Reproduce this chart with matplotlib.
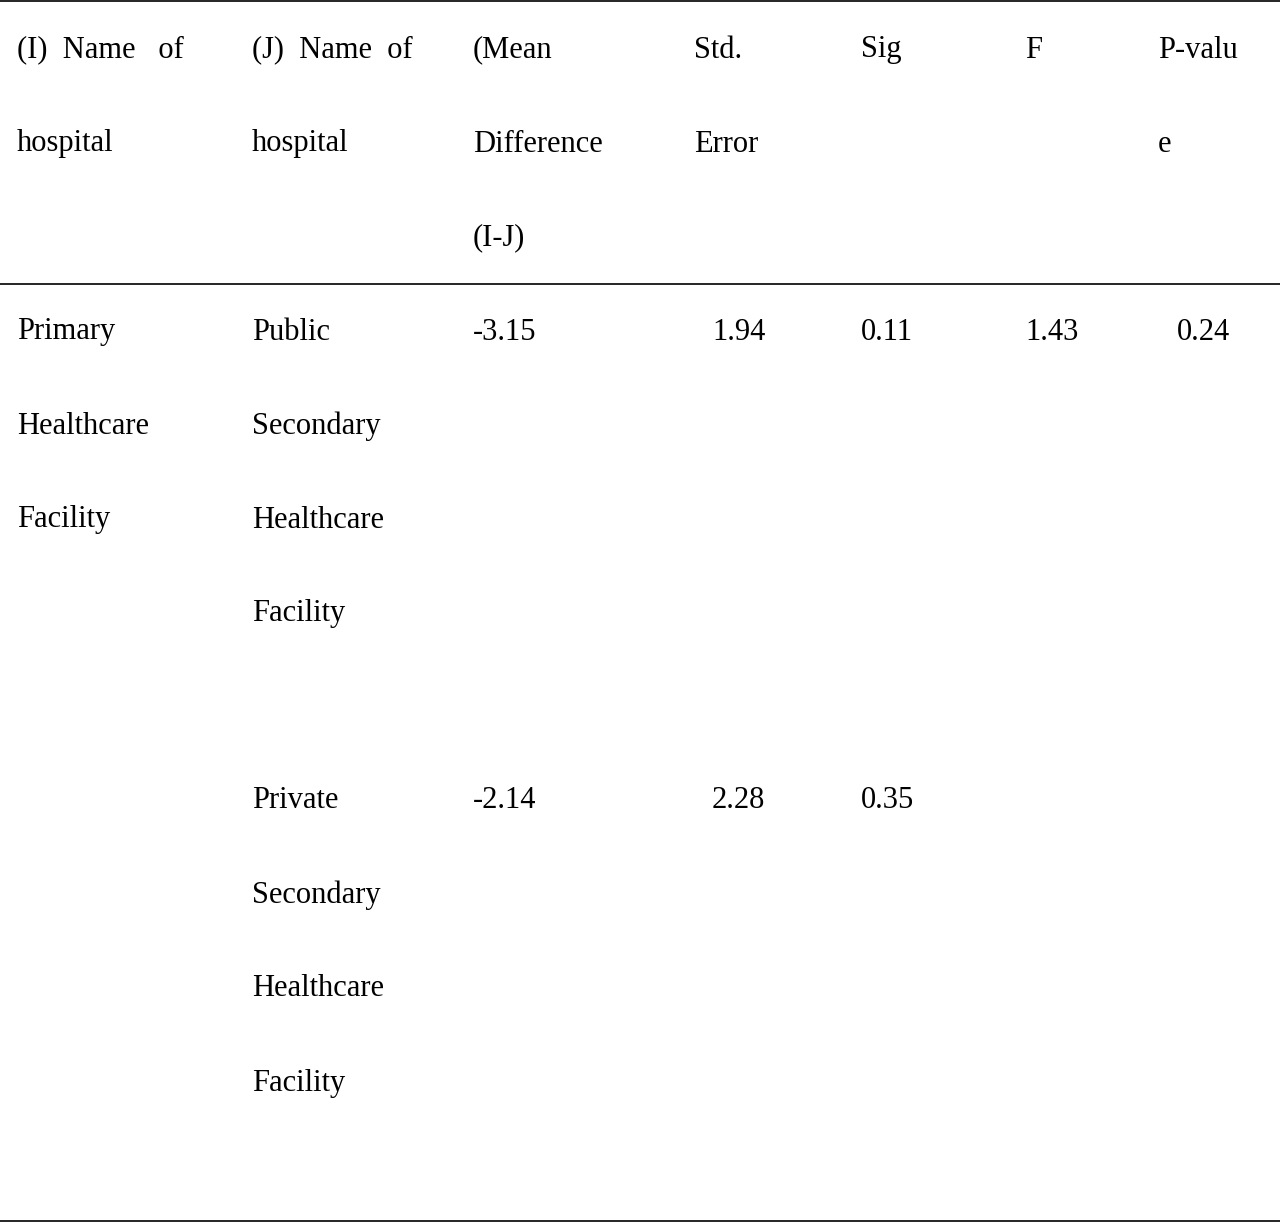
import matplotlib as mpl
mpl.use('Agg')
import matplotlib.pyplot as plt

# table content
headers = [["(I)  Name   of", "hospital"],
           ["(J)  Name  of", "hospital"],
           ["(Mean", "Difference", "(I-J)"],
           ["Std.", "Error"],
           ["Sig"],
           ["F"],
           ["P-valu", "e"]]
group_i = ["Primary", "Healthcare", "Facility"]
group_j = [["Public", "Secondary", "Healthcare", "Facility"],
           ["Private", "Secondary", "Healthcare", "Facility"]]
mean_diff = ["-3.15", "-2.14"]
std_err = ["1.94", "2.28"]
sig = ["0.11", "0.35"]
f_val = ["1.43", ""]
p_val = ["0.24", ""]

W, H = 1280, 1223
fig = plt.figure(figsize=(W / 100, H / 100), dpi=100)
ax = fig.add_axes([0, 0, 1, 1])
ax.set_xlim(0, W)
ax.set_ylim(H, 0)
ax.axis('off')

font = dict(family='Liberation Serif', fontsize=22, va='center', color='black')
col_x = [17, 252, 473, 694, 861, 1025, 1158]
num_x = [473, 712, 861, 1025, 1177]
line_gap = 94

for cx, lines in zip(col_x, headers):
    for k, s in enumerate(lines):
        ax.text(cx, 50 + k * line_gap, s, **font)

for k, s in enumerate(group_i):
    ax.text(col_x[0], 332 + k * line_gap, s, **font)

row_y = [332, 801]
for r, y0 in enumerate(row_y):
    for k, s in enumerate(group_j[r]):
        ax.text(col_x[1], y0 + k * line_gap, s, **font)
    vals = [mean_diff[r], std_err[r], sig[r], f_val[r], p_val[r]]
    for x, s in zip(num_x, vals):
        ax.text(x, y0, s, **font)

for y in [1, 284, 1221]:
    ax.plot([0, W], [y, y], color='black', lw=1.2)

fig.savefig('out.png', dpi=100)
